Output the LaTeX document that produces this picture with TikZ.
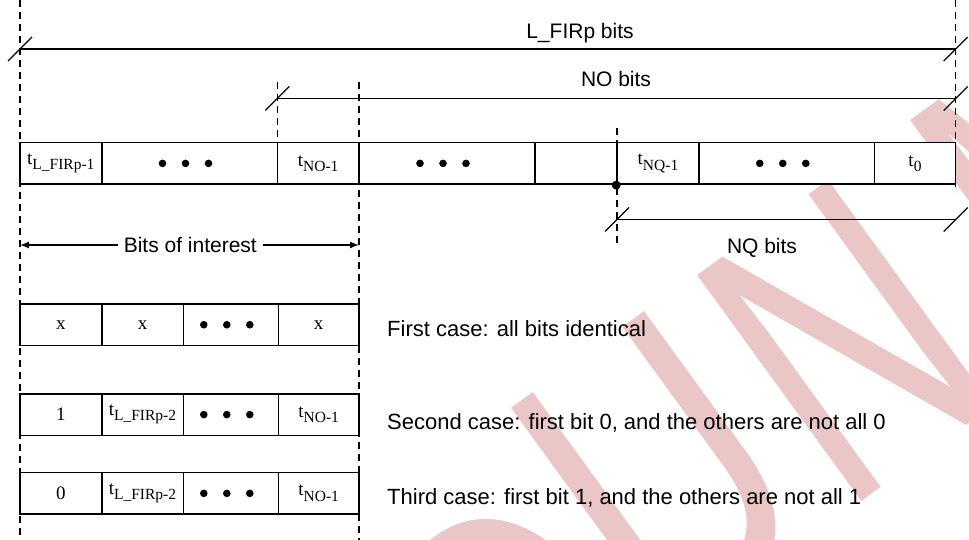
\documentclass[tikz,border=0pt]{standalone}
\usepackage{fontspec}
\setmainfont{Liberation Serif}
\newfontfamily\labelfont{Liberation Sans}
\usetikzlibrary{arrows.meta,calc}
\definecolor{wmpink}{RGB}{234,198,198}

% bit name with a lowered, smaller index
\newcommand\bitname[1]{t\raisebox{-0.28em}{\fontsize{15.5}{15.5}\selectfont #1}}
% three bullets centred in a cell
\newcommand\threedots[1]{\foreach \d in {-23,0,23}{\fill ($(#1.center)+({\d-4},0)$) circle (3.8);}}

\begin{document}
\begin{tikzpicture}[x=1pt,y=-1pt,
  cell/.style={draw,fill=white,line width=1.6pt,inner sep=0pt,
    minimum height=41.8pt,font=\fontsize{19}{19}\selectfont},
  guide/.style={line width=1.5pt,dash pattern=on 7pt off 5pt},
  dimline/.style={line width=1.3pt},
  slash/.style={line width=1.3pt},
  lbl/.style={font=\labelfont\fontsize{21}{21}\selectfont,inner sep=0pt},
  case/.style={font=\labelfont\fontsize{22}{22}\selectfont,inner sep=0pt,anchor=base west},
  wm/.style={text=wmpink,font=\labelfont\fontsize{290}{290}\selectfont,
    rotate=36,yscale=1.4,inner sep=0pt}
]
\useasboundingbox (0,0) rectangle (969,540);
\clip (0,0) rectangle (969,540);

% watermark
\node[wm] (wmO) at (520,653) {O};
\node[wm] (wmU) at (661,475) {U};
\node[wm] (wmN) at (845,341) {N};
\node[wm] (wmM) at (1071,177) {M};

% dashed guide lines
\coordinate (g1t) at (20,0);      \coordinate (g1b) at (20,540);
\coordinate (g2t) at (955.7,0);   \coordinate (g2b) at (955.7,192);
\coordinate (g3t) at (277.3,82);  \coordinate (g3b) at (277.3,142.5);
\coordinate (g4t) at (359,82);    \coordinate (g4b) at (359,540);
\coordinate (g5t) at (617,128);   \coordinate (g5b) at (617,243);
\foreach \g in {g1,g2,g3,g4,g5}{\draw[guide] (\g t) -- (\g b);}

% register of L_FIRp bits
\node[cell,minimum width=81.7pt]  (a1) at (60.85,163.4)  {\bitname{L\_FIRp-1}};
\node[cell,minimum width=175.6pt] (a2) at (189.5,163.4)  {};
\node[cell,minimum width=81.7pt]  (a3) at (318.15,163.4) {\bitname{NO-1}};
\node[cell,minimum width=176pt]   (a4) at (447,163.4)    {};
\node[cell,minimum width=82pt]    (a5) at (576,163.4)    {};
\node[cell,minimum width=82pt]    (a6) at (658,163.4)    {\bitname{NQ-1}};
\node[cell,minimum width=175.5pt] (a7) at (786.75,163.4) {};
\node[cell,minimum width=81pt]    (a8) at (915,163.4)    {\bitname{0}};
\threedots{a2}\threedots{a4}\threedots{a7}
\fill (a6.south west) circle (4.5);

% dimension lines
\coordinate (lf-l) at (20,49);     \coordinate (lf-r) at (955.7,49);
\coordinate (no-l) at (277.3,98.5);\coordinate (no-r) at (955.7,98.5);
\coordinate (nq-l) at (617,219.5); \coordinate (nq-r) at (955.7,219.5);
\foreach \p in {lf,no,nq}{
  \draw[dimline] (\p-l) -- (\p-r);
  \draw[slash] ($(\p-l)+(-12,12)$) -- ($(\p-l)+(12,-12)$);
  \draw[slash] ($(\p-r)+(-12,12)$) -- ($(\p-r)+(12,-12)$);
}
\node[lbl,anchor=base] (lfl) at (580,39)  {L\_FIRp bits};
\node[lbl,anchor=base] (nol) at (616,87)  {NO bits};
\node[lbl,anchor=base] (nql) at (762,253) {NQ bits};

% bits of interest
\node[lbl,inner xsep=6pt] (boi) at (190.3,245) {Bits of interest};
\coordinate (boi-l) at (20,245);
\coordinate (boi-r) at (359,245);
\draw[dimline,-{Latex[length=9pt,width=7pt]}] (boi) -- (boi-l);
\draw[dimline,-{Latex[length=9pt,width=7pt]}] (boi) -- (boi-r);

% the three cases
\foreach \r/\y/\f/\s in {1/324.75/x/x, 2/414.6/1/\bitname{L\_FIRp-2}, 3/493.35/0/\bitname{L\_FIRp-2}}{
  \node[cell,minimum width=81.7pt] (b\r1) at (60.85,\y)  {\f};
  \node[cell,minimum width=81.6pt] (b\r2) at (142.5,\y)  {\s};
  \node[cell,minimum width=95pt]   (b\r3) at (230.8,\y)  {};
  \node[cell,minimum width=80.7pt] (b\r4) at (318.65,\y) {};
  \threedots{b\r3}
}
\node[font=\fontsize{19}{19}\selectfont] (x14) at (b14) {x};
\node[font=\fontsize{19}{19}\selectfont] (x24) at (b24) {\bitname{NO-1}};
\node[font=\fontsize{19}{19}\selectfont] (x34) at (b34) {\bitname{NO-1}};

\node[case] (c1) at (387,336) {First case: all bits identical};
\node[case] (c2) at (387,429) {Second case: first bit 0, and the others are not all 0};
\node[case] (c3) at (387,504) {Third case: first bit 1, and the others are not all 1};
\end{tikzpicture}
\end{document}
